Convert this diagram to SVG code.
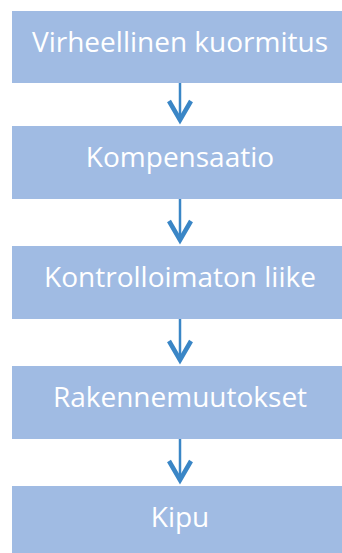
<svg xmlns="http://www.w3.org/2000/svg" width="342" height="553" viewBox="0 0 342 553">
<style>
.box{fill:#A0BBE3}
.lbl{fill:#FFFFFF;font-family:"Open Sans","Noto Sans","DejaVu Sans",sans-serif;font-size:28px;text-anchor:middle}
.ln{stroke:#3A86C6;stroke-width:2.5;fill:none}
.hd{stroke:#3A86C6;stroke-width:4.5;fill:none;stroke-linejoin:miter;stroke-miterlimit:10}
</style>
<rect width="342" height="553" fill="#FFFFFF"/>
<g id="n1"><rect class="box" x="12" y="11" width="336" height="72"/><text class="lbl" x="180" y="52">Virheellinen kuormitus</text></g>
<g id="n2"><rect class="box" x="12" y="126" width="336" height="73"/><text class="lbl" x="180" y="167">Kompensaatio</text></g>
<g id="n3"><rect class="box" x="12" y="246" width="336" height="73"/><text class="lbl" x="180" y="287">Kontrolloimaton liike</text></g>
<g id="n4"><rect class="box" x="12" y="366" width="336" height="73"/><text class="lbl" x="180" y="407">Rakennemuutokset</text></g>
<g id="n5"><rect class="box" x="12" y="486" width="336" height="73"/><text class="lbl" x="180" y="527">Kipu</text></g>
<g id="connectors">
<line class="ln" x1="180" y1="83" x2="180" y2="119"/><polyline class="hd" points="169,101 180,120 191,101"/>
<line class="ln" x1="180" y1="199" x2="180" y2="239"/><polyline class="hd" points="169,221 180,240 191,221"/>
<line class="ln" x1="180" y1="319" x2="180" y2="359"/><polyline class="hd" points="169,341 180,360 191,341"/>
<line class="ln" x1="180" y1="439" x2="180" y2="479"/><polyline class="hd" points="169,461 180,480 191,461"/>
</g>
</svg>
